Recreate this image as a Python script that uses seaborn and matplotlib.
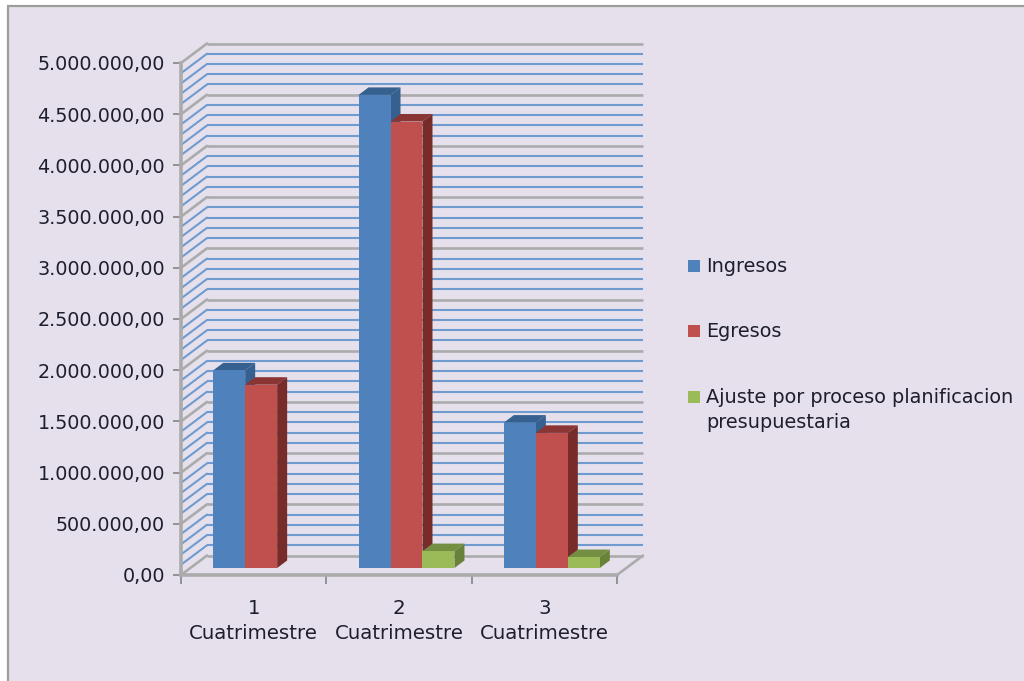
import matplotlib
matplotlib.use("Agg")
import matplotlib.pyplot as plt
from matplotlib.patches import Polygon, Rectangle
from matplotlib.transforms import Affine2D, IdentityTransform
import pandas as pd
import seaborn as sns

# Quarterly budget figures
periods = ["1\nCuatrimestre", "2\nCuatrimestre", "3\nCuatrimestre"]
ingresos = [1930000, 4620000, 1420000]
egresos = [1790000, 4360000, 1320000]
ajuste = [0, 165000, 107000]
series_names = ["Ingresos", "Egresos", "Ajuste por proceso planificacion\npresupuestaria"]
y_major = [0, 500000, 1000000, 1500000, 2000000, 2500000, 3000000, 3500000, 4000000, 4500000, 5000000]
y_labels = ["0,00", "500.000,00", "1.000.000,00", "1.500.000,00", "2.000.000,00", "2.500.000,00",
            "3.000.000,00", "3.500.000,00", "4.000.000,00", "4.500.000,00", "5.000.000,00"]
y_minor_step = 100000

front_colors = ["#4F81BD", "#C0504D", "#9BBB59"]
side_colors = ["#35608F", "#772C2A", "#68823A"]
top_colors = ["#35608F", "#8A3533", "#748F42"]
BG = "#E6E0EC"
GRAY = "#ABABAB"
BLUE_GRID = "#6F9BD0"
TEXT = "#1E1E2E"
W, H = 1024, 681

sns.set_style("white")
plt.rcParams["font.family"] = ["DejaVu Sans"]

fig = plt.figure(figsize=(W / 100, H / 100), dpi=100, facecolor="white")
fig.patches.append(Rectangle((8 / W, -0.01), 1.1, (H - 6) / H + 0.01, transform=fig.transFigure,
                             facecolor=BG, edgecolor="#9A9F9A", linewidth=1.6, figure=fig,
                             zorder=-5))

ax = fig.add_axes([181 / W, (H - 575) / H, 436 / W, 512 / H])
ax.patch.set_visible(False)

df = pd.DataFrame({
    "periodo": periods * 3,
    "valor": ingresos + egresos + ajuste,
    "serie": [n for n in series_names for _ in periods],
})
sns.barplot(data=df, x="periodo", y="valor", hue="serie", palette=front_colors,
            width=0.66, gap=0, saturation=1, legend=False, ax=ax, zorder=5)

ax.set_xlim(-0.5, 2.5)
ax.set_ylim(0, 5000000)
ax.set_xlabel("")
ax.set_ylabel("")

# Oblique offsets, in pixels, for the back wall, the bar row and the bar depth
WALL = (26, 19.5)
ROW = (7.5, 7)
DEPTH = (10, 7.5)


def px(x, y):
    return ax.transData.transform((x, y))


# Back wall and side wall gridlines
n_lines = int(y_major[-1] / y_minor_step)
for i in range(n_lines + 1):
    v = i * y_minor_step
    major = i % 5 == 0
    color, lw = (GRAY, 1.9) if major else (BLUE_GRID, 1.5)
    x0, y0 = px(-0.5, v)
    x1, _ = px(2.5, v)
    ax.plot([x0 + WALL[0], x1 + WALL[0]], [y0 + WALL[1]] * 2, color=color, lw=lw,
            transform=IdentityTransform(), clip_on=False, zorder=1, solid_capstyle="butt")
    ax.plot([x0, x0 + WALL[0]], [y0, y0 + WALL[1]], color=color,
            lw=lw, transform=IdentityTransform(), clip_on=False, zorder=1)

# Right edge of the floor
x_r, y_r = px(2.5, 0)
ax.plot([x_r, x_r + WALL[0]], [y_r, y_r + WALL[1]], color=GRAY, lw=1.9,
        transform=IdentityTransform(), clip_on=False, zorder=1)

# Shift the bars onto their row and extrude each one
for level, (container, side_c, top_c) in enumerate(zip(ax.containers, side_colors, top_colors)):
    for bar in container:
        h = bar.get_height()
        x_l = bar.get_x()
        x_h = x_l + bar.get_width()
        bar.set_transform(ax.transData + Affine2D().translate(*ROW))
        bar.set_clip_on(False)
        bar.set_edgecolor("none")
        bar.set_zorder(4.1 + level * 0.01)
        if h <= 0:
            bar.set_visible(False)
            continue
        (xa, ya), (xb, yb) = px(x_l, 0), px(x_h, h)
        xa, xb = xa + ROW[0], xb + ROW[0]
        ya, yb = ya + ROW[1], yb + ROW[1]
        dx, dy = DEPTH
        ax.add_patch(Polygon([(xb, ya), (xb + dx, ya + dy), (xb + dx, yb + dy), (xb, yb)],
                             closed=True, facecolor=side_c, edgecolor="none",
                             transform=IdentityTransform(), clip_on=False, zorder=4))
        ax.add_patch(Polygon([(xa, yb), (xb, yb), (xb + dx, yb + dy), (xa + dx, yb + dy)],
                             closed=True, facecolor=top_c, edgecolor="none",
                             transform=IdentityTransform(), clip_on=False, zorder=4))

# Axes
sns.despine(ax=ax)
for name in ("left", "bottom"):
    ax.spines[name].set_color(GRAY)
    ax.spines[name].set_linewidth(2.6)
    ax.spines[name].set_zorder(2)

ax.set_yticks(y_major)
ax.set_yticklabels(y_labels)
ax.set_xticks([0, 1, 2])
ax.set_xticks([-0.5, 0.5, 1.5, 2.5], minor=True)
ax.tick_params(axis="y", which="major", left=True, length=5.8, width=1.3, color="#8C8C8C",
               pad=5.8, labelsize=13.8, labelcolor=TEXT)
ax.tick_params(axis="x", which="major", bottom=False, length=0, pad=17, labelsize=14.2, labelcolor=TEXT)
ax.tick_params(axis="x", which="minor", bottom=True, length=6.5, width=1.3, color="#8C8C8C")
for label in ax.get_xticklabels():
    label.set_linespacing(1.45)

# Legend swatches and labels
legend_rows = [266, 331, 397]
for name, color, row in zip(series_names, front_colors, legend_rows):
    fig.patches.append(Rectangle((688 / W, (H - row - 6) / H), 12 / W, 12 / H,
                                 transform=fig.transFigure, facecolor=color,
                                 edgecolor="none", figure=fig))
    fig.text(706 / W, (H - row + 9) / H, name, fontsize=13.85, color=TEXT, va="top", ha="left",
             linespacing=1.37)

fig.savefig("out.png", dpi=100, facecolor=fig.get_facecolor())
